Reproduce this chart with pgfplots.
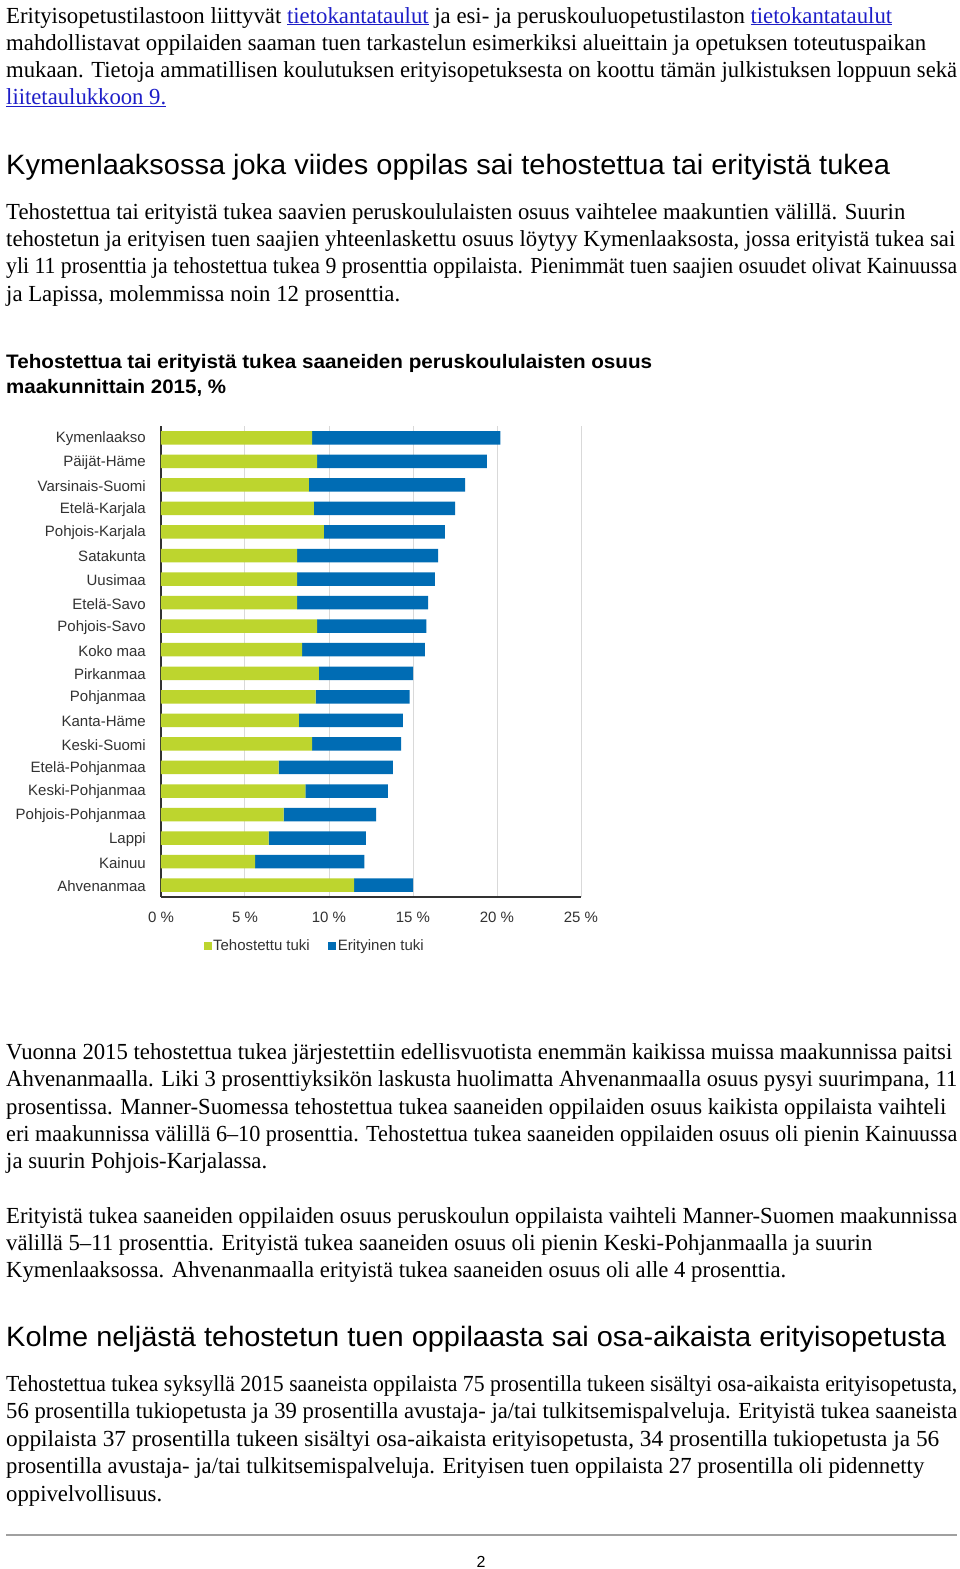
\documentclass[border=0pt]{standalone}
\usepackage{pgfplots}
\pgfplotsset{compat=1.18}
\usepackage{pgfplotstable}
\usepackage{graphicx}
\usepackage{fontspec}
\setmainfont{Liberation Serif}
\newfontfamily\sansf{Liberation Sans}
\definecolor{tgreen}{RGB}{189,213,46}
\definecolor{eblue}{RGB}{0,108,180}
\definecolor{gridgray}{RGB}{217,217,217}
\definecolor{axisgray}{RGB}{50,50,50}
\definecolor{labelgray}{RGB}{50,50,50}
\definecolor{linkblue}{RGB}{30,30,200}
\newcommand\bodyfont{\fontsize{23}{27}\selectfont}
\newcommand\headfont{\sansf\fontsize{28}{32}\selectfont}
\newcommand\ctitlefont{\sansf\bfseries\fontsize{19.5}{24}\selectfont}
\newcommand\chartfont{\sansf\fontsize{15}{18}\selectfont}
\newcommand\lnk[1]{\textcolor{linkblue}{\underline{#1}}}
% #1 baseline y, #2 width, #3 text
\newcommand\tline[3]{\node[anchor=base west,inner sep=0pt] at (6,-#1) {\resizebox{#2pt}{\height}{\bodyfont #3}};}
\newcommand\headline[3]{\node[anchor=base west,inner sep=0pt] at (6,-#1) {\resizebox{#2pt}{\height}{\headfont #3}};}
\newcommand\ctline[3]{\node[anchor=base west,inner sep=0pt] at (6,-#1) {\resizebox{#2pt}{\height}{\ctitlefont #3}};}

\pgfplotstableread{
idx teh eri
0 9.0 11.2
1 9.3 10.1
2 8.8 9.3
3 9.1 8.4
4 9.7 7.2
5 8.1 8.4
6 8.1 8.2
7 8.1 7.8
8 9.3 6.5
9 8.4 7.3
10 9.4 5.6
11 9.2 5.6
12 8.2 6.2
13 9.0 5.3
14 7.0 6.8
15 8.6 4.9
16 7.3 5.5
17 6.4 5.8
18 5.6 6.5
19 11.5 3.5
}\regiondata

\begin{document}
\begin{tikzpicture}[x=1pt,y=1pt]
\fill[white] (0,0) rectangle (960,-1569);
\path[use as bounding box] (0,0) rectangle (960,-1569);
\coordinate (axpos) at (161,-426);

% Paragraph 1
\tline{23}{886}{Erityisopetustilastoon liittyvät \lnk{tietokantataulut} ja esi- ja peruskouluopetustilaston \lnk{tietokantataulut}}
\tline{50}{920}{mahdollistavat oppilaiden saaman tuen tarkastelun esimerkiksi alueittain ja opetuksen toteutuspaikan}
\tline{77}{951}{mukaan. Tietoja ammatillisen koulutuksen erityisopetuksesta on koottu tämän julkistuksen loppuun sekä}
\tline{104}{160}{\lnk{liitetaulukkoon 9.}}

% Heading 1
\headline{174}{884}{Kymenlaaksossa joka viides oppilas sai tehostettua tai erityistä tukea}

% Paragraph 2
\tline{219}{899}{Tehostettua tai erityistä tukea saavien peruskoululaisten osuus vaihtelee maakuntien välillä. Suurin}
\tline{246}{949}{tehostetun ja erityisen tuen saajien yhteenlaskettu osuus löytyy Kymenlaaksosta, jossa erityistä tukea sai}
\tline{273}{951}{yli 11 prosenttia ja tehostettua tukea 9 prosenttia oppilaista. Pienimmät tuen saajien osuudet olivat Kainuussa}
\tline{301}{394}{ja Lapissa, molemmissa noin 12 prosenttia.}

% Chart title
\ctline{368}{646}{Tehostettua tai erityistä tukea saaneiden peruskoululaisten osuus}
\ctline{393}{220}{maakunnittain 2015, \%}

\begin{axis}[
  at={(axpos)}, anchor=north west,
  scale only axis, width=420pt, height=471pt,
  xbar stacked, bar width=13.5pt,
  xmin=0, xmax=25, ymin=-0.5, ymax=19.5, y dir=reverse,
  xtick={0,5,10,15,20,25},
  xticklabels={0 \%,5 \%,10 \%,15 \%,20 \%,25 \%},
  ytick={0,...,19},
  yticklabels={Kymenlaakso,Päijät-Häme,Varsinais-Suomi,Etelä-Karjala,Pohjois-Karjala,Satakunta,Uusimaa,Etelä-Savo,Pohjois-Savo,Koko maa,Pirkanmaa,Pohjanmaa,Kanta-Häme,Keski-Suomi,Etelä-Pohjanmaa,Keski-Pohjanmaa,Pohjois-Pohjanmaa,Lappi,Kainuu,Ahvenanmaa},
  xmajorgrids, grid style={draw=gridgray, line width=1pt},
  axis x line*=bottom, axis y line*=left,
  x axis line style={draw=axisgray, line width=2pt, -},
  y axis line style={draw=axisgray, line width=1.2pt, -},
  major tick length=0pt,
  tick label style={font=\chartfont, text=labelgray},
  yticklabel style={anchor=east, inner sep=0pt, xshift=-15pt, yshift=-1pt},
  xticklabel style={anchor=north, inner sep=0pt, yshift=-15pt},
  legend columns=2,
  legend style={draw=none, fill=none, inner sep=0pt, font=\chartfont, text=labelgray,
    at={(axis description cs:0.101,-0.104)}, anchor=west,
    nodes={inner sep=1.5pt},
    /tikz/every even column/.append style={column sep=17pt}},
  legend image code/.code={\fill[#1] (0pt,-4pt) rectangle (8pt,4pt);},
]
\addplot[fill=tgreen, draw=none] table[x=teh, y=idx]{\regiondata};
\addplot[fill=eblue, draw=none] table[x=eri, y=idx]{\regiondata};
\legend{Tehostettu tuki, Erityinen tuki}
\end{axis}

% Paragraph 3
\tline{1059}{946}{Vuonna 2015 tehostettua tukea järjestettiin edellisvuotista enemmän kaikissa muissa maakunnissa paitsi}
\tline{1086}{951}{Ahvenanmaalla. Liki 3 prosenttiyksikön laskusta huolimatta Ahvenanmaalla osuus pysyi suurimpana, 11}
\tline{1114}{940}{prosentissa. Manner-Suomessa tehostettua tukea saaneiden oppilaiden osuus kaikista oppilaista vaihteli}
\tline{1141}{951}{eri maakunnissa välillä 6–10 prosenttia. Tehostettua tukea saaneiden oppilaiden osuus oli pienin Kainuussa}
\tline{1168}{261}{ja suurin Pohjois-Karjalassa.}

% Paragraph 4
\tline{1223}{951}{Erityistä tukea saaneiden oppilaiden osuus peruskoulun oppilaista vaihteli Manner-Suomen maakunnissa}
\tline{1250}{866}{välillä 5–11 prosenttia. Erityistä tukea saaneiden osuus oli pienin Keski-Pohjanmaalla ja suurin}
\tline{1277}{780}{Kymenlaaksossa. Ahvenanmaalla erityistä tukea saaneiden osuus oli alle 4 prosenttia.}

% Heading 2
\headline{1346}{940}{Kolme neljästä tehostetun tuen oppilaasta sai osa-aikaista erityisopetusta}

% Paragraph 5
\tline{1391}{951}{Tehostettua tukea syksyllä 2015 saaneista oppilaista 75 prosentilla tukeen sisältyi osa-aikaista erityisopetusta,}
\tline{1418}{951}{56 prosentilla tukiopetusta ja 39 prosentilla avustaja- ja/tai tulkitsemispalveluja. Erityistä tukea saaneista}
\tline{1446}{933}{oppilaista 37 prosentilla tukeen sisältyi osa-aikaista erityisopetusta, 34 prosentilla tukiopetusta ja 56}
\tline{1473}{918}{prosentilla avustaja- ja/tai tulkitsemispalveluja. Erityisen tuen oppilaista 27 prosentilla oli pidennetty}
\tline{1501}{156}{oppivelvollisuus.}

% footer rule and page number
\draw[draw={rgb,255:red,160;green,160;blue,160}, line width=2pt] (6,-1535) -- (957,-1535);
\node[anchor=base, inner sep=0pt, font=\sansf\fontsize{16}{18}\selectfont] at (481,-1567) {2};
\end{tikzpicture}
\end{document}
